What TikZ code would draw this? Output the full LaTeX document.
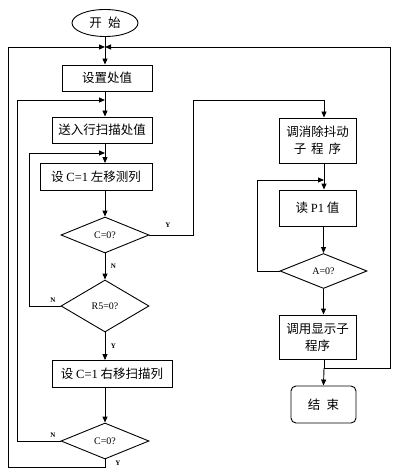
\documentclass[tikz,border=0pt]{standalone}
\usepackage{fontspec}
\setmainfont{Liberation Serif}
\newfontfamily\cjk{Noto Sans CJK SC}
\usetikzlibrary{shapes.geometric,arrows.meta}

\tikzset{
  box/.style={draw, inner sep=1pt, align=center, font=\cjk\fontsize{12.5}{17}\selectfont},
  cond/.style={draw, diamond, aspect=2.5, inner sep=0pt, minimum width=88pt, font=\fontsize{10}{11}\selectfont},
  yn/.style={font=\bfseries\fontsize{7}{8}\selectfont},
  arr/.style={-{Triangle[length=6pt,width=5pt]}},
}

\begin{document}
\begin{tikzpicture}[x=1pt, y=-1pt, line width=0.9pt]
\useasboundingbox (0,0) rectangle (409,476);

% left column
\node[draw, ellipse, minimum width=66pt, minimum height=27pt, inner sep=0pt, font=\cjk\fontsize{12.5}{14}\selectfont] (start) at (105,23) {开\hspace{0.5em}始};
\coordinate (j1) at (105,47);
\node[box, minimum width=90pt, minimum height=26pt] (set) at (107,78) {设置处值};
\coordinate (j2) at (105,100);
\node[box, minimum width=100pt, minimum height=26pt] (row) at (102,130) {送入行扫描处值};
\coordinate (j3) at (105,153);
\node[box, minimum width=112pt, minimum height=27pt] (left) at (96,177) {设 {\rmfamily C=1} 左移测列};
\node[cond, minimum height=36pt] (d1) at (105,235) {C=0?};
\node[cond, minimum height=52pt] (d2) at (105,306) {R5=0?};
\node[box, minimum width=120pt, minimum height=27pt] (right) at (112,374) {设 {\rmfamily C=1} 右移扫描列};
\node[cond, minimum height=36pt] (d3) at (105,441) {C=0?};

% right column
\coordinate (j4) at (324,180);
\coordinate (j5) at (324,368);
\node[box, minimum width=77pt, minimum height=45pt] (deb) at (317.5,140.5) {调消除抖动\\子\hspace{0.4em}程\hspace{0.4em}序};
\node[box, minimum width=77pt, minimum height=36pt] (rd) at (317.5,208) {读 {\rmfamily P1} 值};
\node[cond, minimum width=87pt, minimum height=35pt] (d4) at (323.5,271) {A=0?};
\node[box, minimum width=77pt, minimum height=44pt] (disp) at (317.5,337) {调用显示子\\程序};
\node[box, rounded corners=5pt, minimum width=65pt, minimum height=37pt] (end) at (323.5,404.5) {结\hspace{0.5em}束};

\coordinate (lo) at (8,467);
\coordinate (ru) at (193,100);
\coordinate (ro) at (390,368);

% main flow
\draw (start) -- (j1);
\draw[arr] (j1) -- (set.north -| j1);
\draw (set.south -| j2) -- (j2);
\draw[arr] (j2) -- (row.north -| j2);
\draw (row.south -| j3) -- (j3);
\draw[arr] (j3) -- (left.north -| j3);
\draw[arr] (left.south -| d1) -- (d1.north);
\draw[arr] (d1.south) -- node[yn, right, xshift=2pt]{N} (d2.north);
\draw[arr] (d2.south) -- node[yn, right, xshift=2pt]{Y} (right.north -| d2);
\draw[arr] (right.south -| d3) -- (d3.north);

% loops back
\draw[arr] (d2.west) -- node[yn, above, pos=0.25]{N} ++(-31,0) |- (j3);
\draw[arr] (d3.west) -- node[yn, above, pos=0.18]{N} ++(-43,0) |- (j2);
\draw[arr] (d3.south) |- (lo) |- (j1);
\node[yn] at (118,463) {Y};

% to the right column
\draw[arr] (d1.east) -| (ru) -| (deb.north -| j4);
\node[yn] at (168,225) {Y};
\draw (deb.south -| j4) -- (j4);
\draw[arr] (j4) -- (rd.north -| j4);
\draw[arr] (rd.south -| d4) -- (d4.north);
\draw[arr] (d4.west) -- ++(-22,0) |- (j4);
\draw[arr] (d4.south) -- (disp.north -| d4);
\draw (disp.south -| j5) -- (j5);
\draw[arr] (j5) -- (end.north);
\draw[arr] (j5) -- (ro) |- (j1);
\end{tikzpicture}
\end{document}
